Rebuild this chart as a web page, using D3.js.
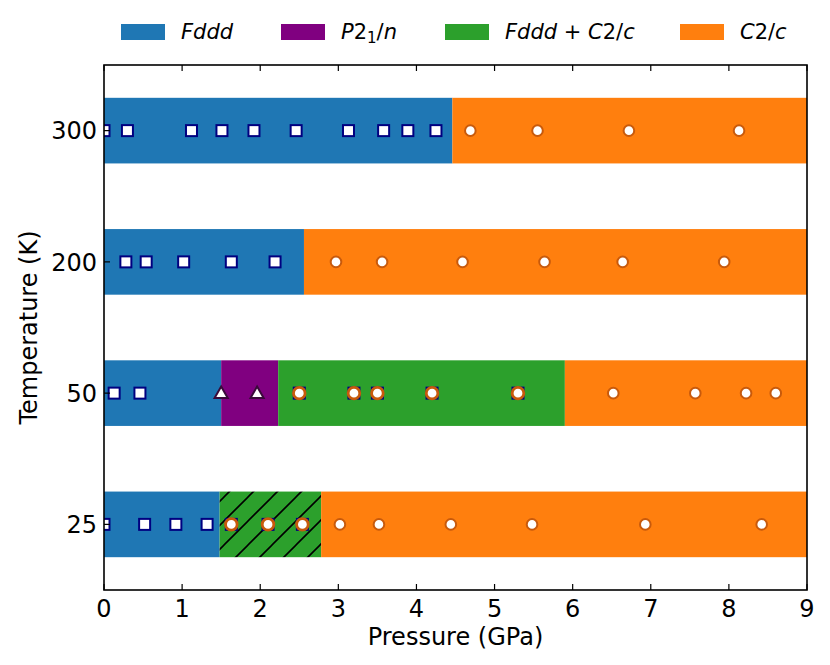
<!DOCTYPE html>
<html>
<head>
<meta charset="utf-8">
<script src="https://cdn.jsdelivr.net/npm/d3@7"></script>
<style>
  body { margin: 0; background: #fff; }
  text { font-family: "DejaVu Sans", sans-serif; fill: #000; }
</style>
</head>
<body>
<div id="graph-area"></div>
<script>
width = 830;
height = 665;

margin = {top: 65, right: 23, bottom: 75, left: 104}

// Data: temperatures (rows, bottom to top) and phase boundaries in GPa
var temps = ["25", "50", "200", "300"];
var phaseNames = ["Fddd", "P2_1/n", "Fddd + C2/c", "C2/c"];
var phaseColors = ["#1f77b4", "#800080", "#2ca02c", "#ff7f0e"];

// boundaries + phase index for each row
var bounds25 = [0, 1.48, 2.78, 9];
var phases25 = [0, 2, 3];
var bounds50 = [0, 1.50, 2.23, 5.90, 9];
var phases50 = [0, 1, 2, 3];
var bounds200 = [0, 2.56, 9];
var phases200 = [0, 3];
var bounds300 = [0, 4.46, 9];
var phases300 = [0, 3];

// measured points (GPa)
var sq25 = [0, 0.52, 0.92, 1.32];
var mix25 = [1.63, 2.10, 2.54];
var ci25 = [3.02, 3.52, 4.44, 5.48, 6.93, 8.42];

var sq50 = [0.13, 0.46];
var tr50 = [1.50, 1.96];
var mix50 = [2.50, 3.20, 3.50, 4.20, 5.30];
var ci50 = [6.52, 7.57, 8.22, 8.60];

var sq200 = [0.28, 0.54, 1.02, 1.63, 2.19];
var ci200 = [2.97, 3.56, 4.59, 5.64, 6.64, 7.94];

var sq300 = [0, 0.30, 1.12, 1.51, 1.92, 2.46, 3.13, 3.58, 3.89, 4.25];
var ci300 = [4.69, 5.55, 6.72, 8.13];

var xTicks = [0, 1, 2, 3, 4, 5, 6, 7, 8, 9];

var rows = [
  {b: bounds25, p: phases25, hatch: [false, true, false], sq: sq25, mix: mix25, ci: ci25, tr: []},
  {b: bounds50, p: phases50, hatch: [false, false, false, false], sq: sq50, mix: mix50, ci: ci50, tr: tr50},
  {b: bounds200, p: phases200, hatch: [false, false], sq: sq200, mix: [], ci: ci200, tr: []},
  {b: bounds300, p: phases300, hatch: [false, false], sq: sq300, mix: [], ci: ci300, tr: []}
];

var w = width - margin.left - margin.right;
var h = height - margin.top - margin.bottom;

var x = d3.scaleLinear().domain([0, 9]).range([0, w]);
var y = d3.scaleLinear().domain([-0.5, 3.5]).range([h, 0]);

var svg = d3.select("#graph-area")
  .append("svg")
  .attr("width", width)
  .attr("height", height);

var defs = svg.append("defs");
defs.append("clipPath").attr("id", "clip")
  .append("rect").attr("width", w).attr("height", h);

var pat = defs.append("pattern")
  .attr("id", "hatch")
  .attr("patternUnits", "userSpaceOnUse")
  .attr("width", 24).attr("height", 24);
pat.append("rect").attr("width", 24).attr("height", 24).attr("fill", phaseColors[2]);
pat.append("path")
  .attr("d", "M-6,6 L6,-6 M0,24 L24,0 M18,30 L30,18")
  .attr("stroke", "#000").attr("stroke-width", 1.6);

var g = svg.append("g")
  .attr("transform", "translate(" + margin.left + "," + margin.top + ")");

var plot = g.append("g").attr("clip-path", "url(#clip)");

// bars
rows.forEach((r, i) => {
  r.p.forEach((ph, k) => {
    plot.append("rect")
      .attr("x", x(r.b[k]))
      .attr("width", x(r.b[k + 1]) - x(r.b[k]))
      .attr("y", y(i + 0.25))
      .attr("height", y(i - 0.25) - y(i + 0.25))
      .attr("fill", r.hatch[k] ? "url(#hatch)" : phaseColors[ph]);
  });
});

var sqSize = 11;
function squares(vals, i) {
  plot.selectAll(null).data(vals).enter().append("rect")
    .attr("x", d => x(d) - sqSize / 2)
    .attr("y", y(i) - sqSize / 2)
    .attr("width", sqSize).attr("height", sqSize)
    .attr("fill", "#fff").attr("stroke", "#000080").attr("stroke-width", 2);
}
function circles(vals, i, sw) {
  plot.selectAll(null).data(vals).enter().append("circle")
    .attr("cx", d => x(d))
    .attr("cy", y(i))
    .attr("r", sw > 2 ? 5.8 : 5.3)
    .attr("fill", "#fff").attr("stroke", "#c85a0c").attr("stroke-width", sw);
}
function triangles(vals, i) {
  var tri = d3.symbol().type(d3.symbolTriangle).size(75);
  plot.selectAll(null).data(vals).enter().append("path")
    .attr("d", tri)
    .attr("transform", d => "translate(" + x(d) + "," + (y(i) + 1) + ")")
    .attr("fill", "#fff").attr("stroke", "#3a0a3a").attr("stroke-width", 2);
}

rows.forEach((r, i) => {
  squares(r.sq, i);
  squares(r.mix, i);
  circles(r.mix, i, 2.8);
  circles(r.ci, i, 2);
  triangles(r.tr, i);
});

// frame
g.append("rect")
  .attr("width", w).attr("height", h)
  .attr("fill", "none").attr("stroke", "#000").attr("stroke-width", 1.6);

// x ticks (inward, bottom and top)
xTicks.forEach(t => {
  g.append("line").attr("x1", x(t)).attr("x2", x(t)).attr("y1", h).attr("y2", h - 6)
    .attr("stroke", "#000").attr("stroke-width", 1.2);
  g.append("line").attr("x1", x(t)).attr("x2", x(t)).attr("y1", 0).attr("y2", 6)
    .attr("stroke", "#000").attr("stroke-width", 1.2);
  g.append("text")
    .attr("x", x(t)).attr("y", h + 27)
    .attr("text-anchor", "middle")
    .attr("font-size", 24)
    .text(t);
});

// y ticks
temps.forEach((t, i) => {
  g.append("line").attr("x1", 0).attr("x2", 6).attr("y1", y(i)).attr("y2", y(i))
    .attr("stroke", "#000").attr("stroke-width", 1.2);
  g.append("text")
    .attr("x", -7).attr("y", y(i))
    .attr("dy", "0.36em")
    .attr("text-anchor", "end")
    .attr("font-size", 24)
    .text(t);
});

// axis labels
g.append("text")
  .attr("x", w / 2).attr("y", h + 55)
  .attr("text-anchor", "middle")
  .attr("font-size", 24)
  .text("Pressure (GPa)");

g.append("text")
  .attr("transform", "rotate(-90)")
  .attr("x", -h / 2).attr("y", -67)
  .attr("text-anchor", "middle")
  .attr("font-size", 24)
  .text("Temperature (K)");

// legend
var legX = [121, 281, 445, 680];
var leg = svg.append("g");
phaseNames.forEach((name, k) => {
  leg.append("rect")
    .attr("x", legX[k]).attr("y", 24)
    .attr("width", 44).attr("height", 16)
    .attr("fill", phaseColors[k]);
  var txt = leg.append("text")
    .attr("x", legX[k] + 60).attr("y", 39)
    .attr("font-size", 21);
  if (k === 0) {
    txt.append("tspan").attr("font-style", "italic").text("Fddd");
  } else if (k === 1) {
    txt.append("tspan").attr("font-style", "italic").text("P");
    txt.append("tspan").text("2");
    txt.append("tspan").attr("font-size", 15).attr("dy", 4).text("1");
    txt.append("tspan").attr("dy", -4).text("/");
    txt.append("tspan").attr("font-style", "italic").text("n");
  } else if (k === 2) {
    txt.append("tspan").attr("font-style", "italic").text("Fddd");
    txt.append("tspan").text(" + ");
    txt.append("tspan").attr("font-style", "italic").text("C");
    txt.append("tspan").text("2/");
    txt.append("tspan").attr("font-style", "italic").text("c");
  } else {
    txt.append("tspan").attr("font-style", "italic").text("C");
    txt.append("tspan").text("2/");
    txt.append("tspan").attr("font-style", "italic").text("c");
  }
});
</script>
</body>
</html>
